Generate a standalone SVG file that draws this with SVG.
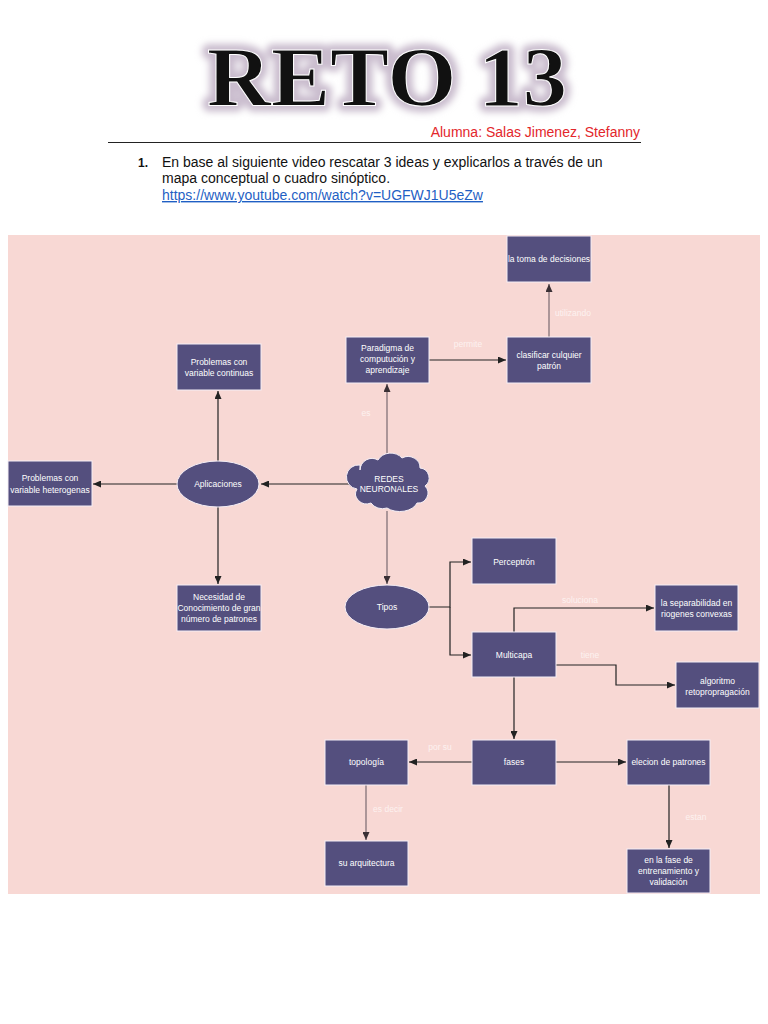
<svg xmlns="http://www.w3.org/2000/svg" width="768" height="1024" viewBox="0 0 768 1024">
<defs>
<marker id="ah" markerUnits="userSpaceOnUse" markerWidth="8" markerHeight="7" refX="8" refY="3.5" orient="auto"><path d="M0,0 L8,3.5 L0,7 z" fill="#222"/></marker>
<marker id="ahg" markerUnits="userSpaceOnUse" markerWidth="8" markerHeight="7" refX="8" refY="3.5" orient="auto"><path d="M0,0 L8,3.5 L0,7 z" fill="#3a3035"/></marker>
<filter id="glow" x="-10%" y="-30%" width="120%" height="160%"><feGaussianBlur stdDeviation="3.5"/></filter>
</defs>
<style>
.box{fill:#544f7e;stroke:#f4eef6;stroke-width:1}
.nt{fill:#ffffff;font-family:"Liberation Sans",Arial,sans-serif;font-size:8.5px;text-anchor:middle}
.lb{fill:#fdf2f0;font-family:"Liberation Sans",Arial,sans-serif;font-size:8.5px;text-anchor:middle}
.c{fill:none;stroke:#222;stroke-width:1.2;marker-end:url(#ah)}
.cg{fill:none;stroke:#7a6a70;stroke-width:1.2;marker-end:url(#ahg)}
.hd{font-family:"Liberation Sans",Arial,sans-serif;font-size:14px;fill:#111}
</style>
<rect width="768" height="1024" fill="#ffffff"/>
<g id="title">
<text x="387" y="106" text-anchor="middle" font-family="Liberation Serif,serif" font-weight="bold" font-size="84" textLength="360" lengthAdjust="spacingAndGlyphs" fill="#c9bccd" stroke="#c9bccd" stroke-width="12" stroke-linejoin="round" filter="url(#glow)">RETO 13</text>
<text x="387" y="106" text-anchor="middle" font-family="Liberation Serif,serif" font-weight="bold" font-size="84" textLength="360" lengthAdjust="spacingAndGlyphs" fill="#111" stroke="#ffffff" stroke-width="1">RETO 13</text>
</g>
<g id="header">
<text x="640" y="137" text-anchor="end" font-family="Liberation Sans,Arial,sans-serif" font-size="14" fill="#e3262b">Alumna: Salas Jimenez, Stefanny</text>
<line x1="108" y1="142.5" x2="641" y2="142.5" stroke="#222" stroke-width="1"/>
<text x="138" y="167" font-family="Liberation Sans,Arial,sans-serif" font-size="12" font-weight="bold" fill="#111">1.</text>
<text x="162" y="167" class="hd">En base al siguiente video rescatar 3 ideas y explicarlos a través de un</text>
<text x="162" y="183" class="hd">mapa conceptual o cuadro sinóptico.</text>
<text x="162" y="200" font-family="Liberation Sans,Arial,sans-serif" font-size="14" fill="#1f5fc4" text-decoration="underline">https://www.youtube.com/watch?v=UGFWJ1U5eZw</text>
</g>
<rect id="panel" x="8" y="235" width="752" height="659" fill="#f8d8d4"/>
<g id="connectors">
<line class="c" x1="429" y1="360" x2="506" y2="360"/>
<line class="cg" x1="549" y1="337" x2="549" y2="284"/>
<line class="cg" x1="387" y1="457" x2="387" y2="384"/>
<line class="c" x1="352" y1="484" x2="261" y2="484"/>
<line class="c" x1="218" y1="461" x2="218" y2="391"/>
<line class="c" x1="177" y1="484" x2="93" y2="484"/>
<line class="c" x1="218" y1="507" x2="218" y2="584"/>
<line class="cg" x1="387" y1="511" x2="387" y2="584"/>
<path class="c" d="M429,607 H450 V562 H471"/>
<path class="c" d="M450,607 V655 H471"/>
<path class="c" d="M514,632 V608 H654"/>
<path class="c" d="M556,665 H616 V685 H675"/>
<line class="c" x1="514" y1="677" x2="514" y2="739"/>
<line class="c" x1="472" y1="762" x2="409" y2="762"/>
<line class="c" x1="556" y1="762" x2="626" y2="762"/>
<line class="cg" x1="366" y1="785" x2="366" y2="840"/>
<line class="c" x1="669" y1="785" x2="669" y2="848"/>
<text class="lb" x="468" y="347">permite</text>
<text class="lb" x="573" y="316">utilizando</text>
<text class="lb" x="366" y="416">es</text>
<text class="lb" x="580" y="603">soluciona</text>
<text class="lb" x="590" y="658">tiene</text>
<text class="lb" x="440" y="750">por su</text>
<text class="lb" x="388" y="812">es decir</text>
<text class="lb" x="696" y="820">estan</text>
</g>
<g id="n-toma"><rect class="box" x="507" y="236" width="84" height="46"/><text class="nt" x="549" y="262">la toma de decisiones</text></g>
<g id="n-clasificar"><rect class="box" x="507" y="337" width="84" height="46"/><text class="nt" x="549" y="358">clasificar culquier</text><text class="nt" x="549" y="369">patrón</text></g>
<g id="n-paradigma"><rect class="box" x="346" y="337" width="83" height="46"/><text class="nt" x="387.5" y="351">Paradigma de</text><text class="nt" x="387.5" y="362">computución y</text><text class="nt" x="387.5" y="373">aprendizaje</text></g>
<g id="n-continuas"><rect class="box" x="177" y="344" width="84" height="46"/><text class="nt" x="219" y="365">Problemas con</text><text class="nt" x="219" y="376">variable continuas</text></g>
<g id="n-heterogenas"><rect class="box" x="8" y="461" width="84" height="45"/><text class="nt" x="50" y="481">Problemas con</text><text class="nt" x="50" y="493">variable heterogenas</text></g>
<g id="n-aplicaciones"><ellipse class="box" cx="218" cy="484" rx="41" ry="23"/><text class="nt" x="218" y="487">Aplicaciones</text></g>
<g id="n-redes"><path class="box" d="M360,470 a12,12 0 0 1 18,-10 a14,12 0 0 1 24,-2 a12,11 0 0 1 18,10 a10,10 0 0 1 5,18 a10,10 0 0 1 -8,17 a18,12 0 0 1 -30,5 a13,11 0 0 1 -16,-5 a11,10 0 0 1 -14,-14 a9,9 0 0 1 3,-24 z"/><text class="nt" x="389" y="482">REDES</text><text class="nt" x="389" y="492">NEURONALES</text></g>
<g id="n-necesidad"><rect class="box" x="177" y="585" width="84" height="46"/><text class="nt" x="219" y="600">Necesidad de</text><text class="nt" x="219" y="611">Conocimiento de gran</text><text class="nt" x="219" y="622">número de patrones</text></g>
<g id="n-tipos"><ellipse class="box" cx="387" cy="607" rx="42" ry="22"/><text class="nt" x="387" y="610">Tipos</text></g>
<g id="n-perceptron"><rect class="box" x="472" y="538" width="84" height="46"/><text class="nt" x="514" y="565">Perceptrón</text></g>
<g id="n-separabilidad"><rect class="box" x="655" y="585" width="83" height="46"/><text class="nt" x="696.5" y="606">la separabilidad en</text><text class="nt" x="696.5" y="617">riogenes convexas</text></g>
<g id="n-multicapa"><rect class="box" x="472" y="632" width="84" height="45"/><text class="nt" x="514" y="658">Multicapa</text></g>
<g id="n-algoritmo"><rect class="box" x="676" y="662" width="83" height="46"/><text class="nt" x="717.5" y="684">algoritmo</text><text class="nt" x="717.5" y="695">retopropragación</text></g>
<g id="n-topologia"><rect class="box" x="325" y="740" width="83" height="45"/><text class="nt" x="366.5" y="765">topología</text></g>
<g id="n-fases"><rect class="box" x="472" y="740" width="84" height="45"/><text class="nt" x="514" y="765">fases</text></g>
<g id="n-elecion"><rect class="box" x="627" y="740" width="83" height="45"/><text class="nt" x="668.5" y="765">elecion de patrones</text></g>
<g id="n-arquitectura"><rect class="box" x="325" y="841" width="83" height="45"/><text class="nt" x="366.5" y="866">su arquitectura</text></g>
<g id="n-fase"><rect class="box" x="627" y="849" width="83" height="44"/><text class="nt" x="668.5" y="863">en la fase de</text><text class="nt" x="668.5" y="874">entrenamiento y</text><text class="nt" x="668.5" y="885">validación</text></g>
</svg>
